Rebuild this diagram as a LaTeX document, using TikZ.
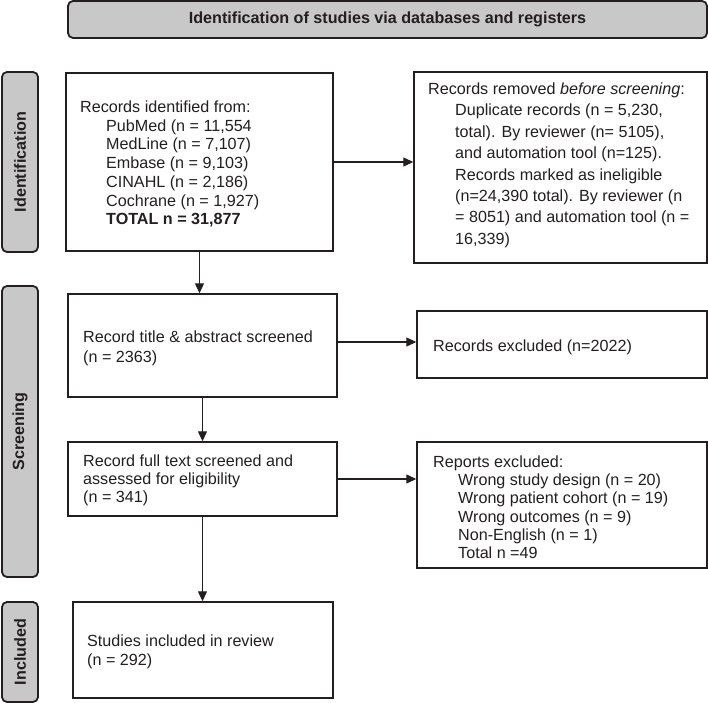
\documentclass[tikz,border=0pt]{standalone}
\usepackage{fontspec}
\setmainfont{Liberation Sans}
\usetikzlibrary{arrows.meta}
\definecolor{ink}{HTML}{231F20}
\definecolor{barfill}{HTML}{C8C8C9}
\begin{document}
\begin{tikzpicture}[x=1bp,y=-1bp,
  box/.style={draw=ink, line width=1.4bp, inner sep=0, fill=white},
  side/.style={draw=ink, fill=barfill, rounded corners=5bp, line width=1.8bp, inner sep=0,
    text=ink, font=\fontsize{16.2}{19}\selectfont\bfseries},
  txt/.style={anchor=base west, inner sep=0, text=ink, font=\fontsize{16.2}{19}\selectfont},
  arr/.style={draw=ink, line width=1.1bp, -{Triangle[length=10bp,width=9bp]}}]
\useasboundingbox (0,0) rectangle (708,703);

% banner and side bars
\node[side, minimum width=639bp, minimum height=37bp] (banner) at (387.5,19.5)
  {Identification of studies via databases and registers};
\node[side, minimum width=180bp, minimum height=36bp, rotate=90] (sid) at (20,162) {Identification};
\node[side, minimum width=291bp, minimum height=36bp, rotate=90] (sscr) at (20,431.5) {Screening};
\node[side, minimum width=100bp, minimum height=36bp, rotate=90] (sinc) at (20,652) {Included};

% boxes
\node[box, minimum width=267bp, minimum height=178bp] (ident) at (199.5,162) {};
\node[box, minimum width=293bp, minimum height=191bp] (remov) at (560.5,167.5) {};
\node[box, minimum width=269bp, minimum height=103bp] (title) at (202.5,345.5) {};
\node[box, minimum width=290bp, minimum height=67bp] (excl) at (562,344.5) {};
\node[box, minimum width=269bp, minimum height=74bp] (full) at (202.5,479) {};
\node[box, minimum width=290bp, minimum height=126bp] (rep) at (562,505) {};
\node[box, minimum width=260bp, minimum height=96bp] (incl) at (203,650) {};

% texts: records identified
\node[txt] (i1) at (80,112.5) {Records identified from:};
\node[txt] (i2) at (106,131.2) {PubMed (n = 11,554};
\node[txt] (i3) at (106,149.9) {MedLine (n = 7,107)};
\node[txt] (i4) at (106,168.6) {Embase (n = 9,103)};
\node[txt] (i5) at (106,187.3) {CINAHL (n = 2,186)};
\node[txt] (i6) at (106,206.0) {Cochrane (n = 1,927)};
\node[txt] (i7) at (106,224.7) {\bfseries TOTAL n = 31,877};

% records removed
\node[txt] (r1) at (428,94.5) {Records removed \textit{before screening}:};
\node[txt] (r2) at (455,115.9) {Duplicate records (n = 5,230,};
\node[txt] (r3) at (455,137.3) {total). By reviewer (n= 5105),};
\node[txt] (r4) at (455,158.7) {and automation tool (n=125).};
\node[txt] (r5) at (455,180.1) {Records marked as ineligible};
\node[txt] (r6) at (455,201.5) {(n=24,390 total). By reviewer (n};
\node[txt] (r7) at (455,222.9) {= 8051) and automation tool (n =};
\node[txt] (r8) at (455,244.3) {16,339)};

% screening
\node[txt] (t1) at (83,342.2) {Record title \& abstract screened};
\node[txt] (t2) at (83,362.8) {(n = 2363)};
\node[txt] (e1) at (433,351.5) {Records excluded (n=2022)};

\node[txt] (f1) at (83,466.5) {Record full text screened and};
\node[txt] (f2) at (83,484.5) {assessed for eligibility};
\node[txt] (f3) at (83,502.5) {(n = 341)};

\node[txt] (p1) at (433,467.5) {Reports excluded:};
\node[txt] (p2) at (458,485.7) {Wrong study design (n = 20)};
\node[txt] (p3) at (458,503.9) {Wrong patient cohort (n = 19)};
\node[txt] (p4) at (458,522.1) {Wrong outcomes (n = 9)};
\node[txt] (p5) at (458,540.3) {Non-English (n = 1)};
\node[txt] (p6) at (458,558.5) {Total n =49};

% included
\node[txt] (n1) at (87,646.5) {Studies included in review};
\node[txt] (n2) at (87,665.5) {(n = 292)};

% connectors
\draw[arr] (ident.east) -- (ident.east -| remov.west);
\draw[arr] (ident.south) -- (ident.south |- title.north);
\draw[arr] ([yshift=3.5bp]title.east) -- ([yshift=3.5bp]title.east -| excl.west);
\draw[arr] (title.south) -- (title.south |- full.north);
\draw[arr] (full.east) -- (full.east -| rep.west);
\draw[arr] (full.south) -- (full.south |- incl.north);
\end{tikzpicture}
\end{document}
